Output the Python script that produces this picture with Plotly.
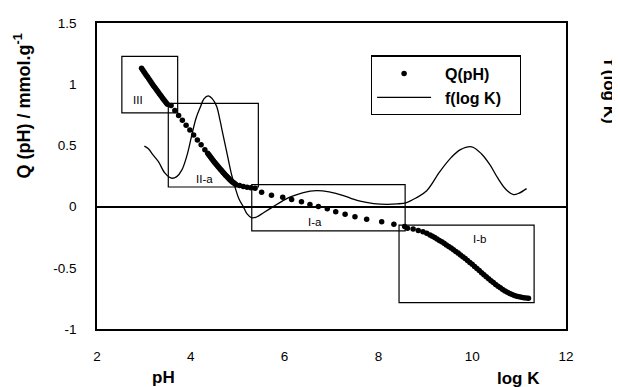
import plotly.graph_objects as go

# Q(pH) titration data (pH, Q in mmol/g)
q_ph = [2.950, 2.975, 3.000, 3.025, 3.050, 3.075, 3.100, 3.125, 3.150, 3.175, 3.200, 3.225,
        3.250, 3.275, 3.300, 3.325, 3.350, 3.375, 3.400, 3.425, 3.450, 3.475, 3.500,
        3.58, 3.66, 3.74, 3.82, 3.90, 3.98, 4.06, 4.14, 4.22, 4.30,
        4.36, 4.38, 4.40, 4.42, 4.44, 4.46, 4.48, 4.50, 4.52, 4.54, 4.56, 4.58, 4.60, 4.62, 4.64,
        4.66, 4.68, 4.70, 4.72, 4.74, 4.76, 4.78, 4.80, 4.82, 4.84, 4.86, 4.88, 4.90, 4.92, 4.94, 4.96,
        5.04, 5.12, 5.20, 5.28, 5.37, 5.51, 5.72, 5.96, 6.15, 6.36, 6.54, 6.72, 6.91, 7.09, 7.29, 7.50,
        7.75, 8.07, 8.33, 8.56,
        8.62, 8.74, 8.85, 8.95, 9.03,
        9.10, 9.15, 9.20, 9.25, 9.30, 9.35, 9.40, 9.45, 9.50, 9.55, 9.60, 9.65, 9.70, 9.75, 9.80,
        9.85, 9.90, 9.95, 10.00, 10.05, 10.10, 10.15, 10.20, 10.25, 10.30, 10.35, 10.40, 10.45,
        10.50, 10.55, 10.60, 10.65, 10.70, 10.75, 10.80, 10.85, 10.90, 10.95, 11.00, 11.05, 11.10,
        11.15, 11.20]
q_val = [1.130, 1.116, 1.102, 1.088, 1.074, 1.060, 1.046, 1.032, 1.018, 1.004, 0.990, 0.977,
         0.964, 0.951, 0.938, 0.925, 0.912, 0.899, 0.886, 0.873, 0.860, 0.848, 0.836,
         0.825, 0.785, 0.745, 0.705, 0.665, 0.625, 0.585, 0.545, 0.505, 0.465,
         0.435, 0.425, 0.415, 0.405, 0.395, 0.385, 0.375, 0.365, 0.356, 0.347, 0.338, 0.328, 0.319, 0.310, 0.301,
         0.292, 0.283, 0.274, 0.266, 0.257, 0.249, 0.241, 0.233, 0.225, 0.218, 0.211, 0.204, 0.198, 0.192, 0.186, 0.181,
         0.172, 0.165, 0.158, 0.155, 0.150, 0.117, 0.093, 0.077, 0.058, 0.039, 0.018, 0.0, -0.018, -0.042, -0.063, -0.082,
         -0.103, -0.123, -0.144, -0.163,
         -0.176, -0.184, -0.195, -0.205, -0.218,
         -0.232, -0.242, -0.253, -0.264, -0.276, -0.288, -0.300, -0.313, -0.326, -0.339, -0.352, -0.366, -0.380, -0.395, -0.410,
         -0.425, -0.440, -0.456, -0.472, -0.489, -0.506, -0.523, -0.540, -0.557, -0.574, -0.590, -0.606, -0.621,
         -0.636, -0.650, -0.664, -0.677, -0.689, -0.700, -0.710, -0.718, -0.726, -0.732, -0.737, -0.741, -0.744,
         -0.746, -0.748]

# f(log K) distribution
f_logk = [3.01, 3.09, 3.20, 3.31, 3.45, 3.59, 3.70, 3.81, 3.92, 4.02, 4.11, 4.20, 4.28, 4.37, 4.46, 4.55,
          4.62, 4.69, 4.78, 4.87, 4.95, 5.03, 5.12, 5.20, 5.30, 5.40, 5.55, 5.76, 5.95, 6.11, 6.40, 6.68,
          6.95, 7.18, 7.40, 7.61, 7.90, 8.18, 8.40, 8.60, 8.80, 9.03, 9.31, 9.55, 9.75, 9.99, 10.20, 10.38,
          10.55, 10.72, 10.88, 11.00, 11.16]
f_val = [0.494, 0.474, 0.42, 0.367, 0.273, 0.232, 0.245, 0.30, 0.42, 0.582, 0.72, 0.81, 0.88, 0.905, 0.88, 0.82,
         0.71, 0.582, 0.42, 0.26, 0.15, 0.06, 0.0, -0.06, -0.092, -0.085, -0.05, 0.0, 0.045, 0.077, 0.115, 0.13,
         0.12, 0.098, 0.07, 0.044, 0.025, 0.018, 0.022, 0.033, 0.07, 0.13, 0.286, 0.40, 0.465, 0.488, 0.43, 0.34,
         0.23, 0.14, 0.098, 0.11, 0.147]

# Region boxes
box_names = ["III", "II-a", "I-a", "I-b"]
box_x0 = [2.53, 3.52, 5.30, 8.44]
box_x1 = [3.72, 5.44, 8.57, 11.32]
box_y0 = [0.765, 0.16, -0.198, -0.784]
box_y1 = [1.227, 0.843, 0.179, -0.152]
label_x = [2.87, 4.30, 6.65, 10.15]
label_y = [0.875, 0.224, -0.125, -0.265]

y_tickvals = [-1, -0.5, 0, 0.5, 1, 1.5]
y_ticktext = ["-1", "-0.5", "0", "0.5", "1", "1.5"]
x_tickvals = [2, 4, 6, 8, 10, 12]
x_ticktext = ["2", "4", "6", "8", "10", "12"]

FONT = "Liberation Sans, Arial, sans-serif"
NB = "&nbsp;"

fig = go.Figure()
fig.add_trace(go.Scatter(x=q_ph, y=q_val, mode="markers", name=NB * 2 + "<b>Q(pH)</b>",
                         marker=dict(color="black", size=5.5)))
fig.add_trace(go.Scatter(x=f_logk, y=f_val, mode="lines", name=NB * 2 + "<b>f(log K)</b>" + NB * 3,
                         line=dict(color="black", width=1.3, shape="spline", smoothing=1.0)))

for i in range(len(box_names)):
    fig.add_shape(type="rect", x0=box_x0[i], x1=box_x1[i], y0=box_y0[i], y1=box_y1[i],
                  line=dict(color="black", width=1.2), layer="above")
    fig.add_annotation(x=label_x[i], y=label_y[i], text=box_names[i], showarrow=False,
                       xanchor="center", yanchor="middle",
                       font=dict(size=11.5, color="black", family=FONT))

fig.add_annotation(xref="paper", yref="paper", x=-0.158, y=0.73,
                   xanchor="center", yanchor="middle",
                   text="<b>Q (pH) / mmol.g<sup>-1</sup></b>", textangle=-90, showarrow=False,
                   font=dict(size=18, color="black", family=FONT))
fig.add_annotation(xref="paper", yref="paper", x=1.092, y=0.776,
                   xanchor="center", yanchor="middle",
                   text="<b>f (log K)</b>", textangle=90, showarrow=False,
                   font=dict(size=17, color="black", family=FONT))
fig.add_annotation(xref="paper", yref="paper", x=0.141, y=-0.157,
                   xanchor="center", yanchor="middle",
                   text="<b>pH</b>", showarrow=False,
                   font=dict(size=17, color="black", family=FONT))
fig.add_annotation(xref="paper", yref="paper", x=0.898, y=-0.163,
                   xanchor="center", yanchor="middle",
                   text="<b>log K</b>", showarrow=False,
                   font=dict(size=17, color="black", family=FONT))

# the page body adds an 8px margin, so the figure is sized/offset to compensate
fig.update_layout(
    width=612, height=379,
    margin=dict(l=89, r=54, t=8, b=58),
    paper_bgcolor="white", plot_bgcolor="white",
    font=dict(family=FONT, size=13.5, color="black"),
    showlegend=True,
    legend=dict(x=0.584, y=0.894, xanchor="left", yanchor="top",
                bordercolor="black", borderwidth=1.2, bgcolor="white",
                font=dict(size=16, family=FONT, color="black"), itemwidth=54,
                tracegroupgap=0),
    xaxis=dict(range=[2, 12], tickvals=x_tickvals, ticktext=x_ticktext,
               showline=True, mirror=True, linecolor="black", linewidth=1.5,
               showgrid=False, zeroline=False, ticks="", ticklabelstandoff=14,
               tickfont=dict(size=13.5)),
    yaxis=dict(range=[-1, 1.5], tickvals=y_tickvals, ticktext=y_ticktext,
               showline=True, mirror=True, linecolor="black", linewidth=1.5,
               showgrid=False, zeroline=True, zerolinecolor="black", zerolinewidth=1.5,
               ticks="", ticklabelstandoff=16, tickfont=dict(size=13.5)),
)

fig.write_html("out.html")
